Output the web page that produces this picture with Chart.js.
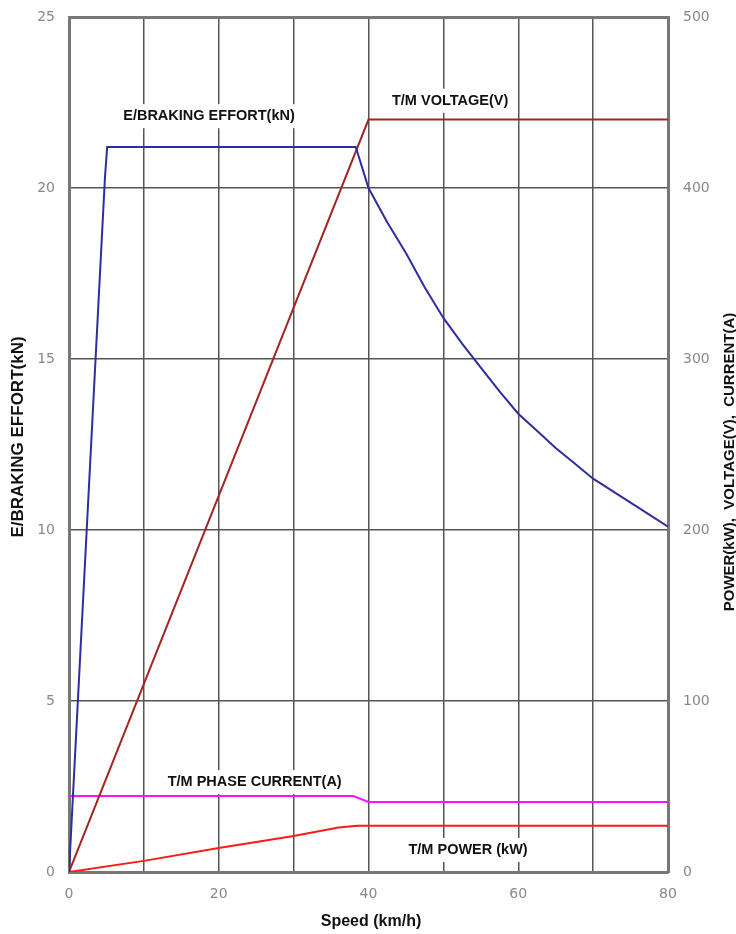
<!DOCTYPE html>
<html>
<head>
<meta charset="utf-8">
<script src="https://cdn.jsdelivr.net/npm/chart.js@4/dist/chart.umd.min.js"></script>
<style>
  html, body { margin: 0; padding: 0; background: #fff; }
  #wrap { width: 736px; height: 934px; }
</style>
</head>
<body>
<div id="wrap"><canvas id="chart" width="736" height="934"></canvas></div>
<script>
// Données
const speedEffort = [0, 4.8, 5.1, 38.3, 40, 42.5, 45, 47.5, 50, 52.5, 55, 57.5, 60, 62.5, 65, 67.5, 70, 72.5, 75, 77.5, 80];
const effortKN = [0, 20.3, 21.2, 21.2, 20.0, 19.0, 18.1, 17.1, 16.2, 15.45, 14.75, 14.05, 13.4, 12.9, 12.4, 11.95, 11.5, 11.15, 10.8, 10.45, 10.1];

const speedVoltage = [0, 40, 80];
const voltageV = [0, 440, 440];

const speedCurrent = [0, 38, 40, 80];
const currentA = [44.4, 44.4, 41, 41];

const speedPower = [0, 10, 20, 30, 36, 38.5, 80];
const powerKW = [0, 6.5, 14, 21, 26, 27, 27];

const xTicks = [0, 20, 40, 60, 80];

// Étiquettes dans le graphique : texte, position (x vitesse, y valeur), axe
const labelTexts = ["E/BRAKING EFFORT(kN)", "T/M VOLTAGE(V)", "T/M PHASE CURRENT(A)", "T/M POWER (kW)"];
const labelSpeeds = [18.7, 50.9, 24.8, 53.3];
const labelValues = [22.1, 451, 52.6, 12.9];
const labelAxes = ["y", "y2", "y2", "y2"];

function toPoints(xs, ys) {
  return xs.map((x, i) => ({ x: x, y: ys[i] }));
}

// Dessine les étiquettes et les titres d'axes
const textPlugin = {
  id: "textPlugin",
  beforeDatasetsDraw(chart) {
    const ctx = chart.ctx;
    ctx.save();
    ctx.font = "bold 14.5px 'Liberation Sans'";
    ctx.textAlign = "center";
    ctx.textBaseline = "middle";
    labelTexts.forEach((t, i) => {
      const px = chart.scales.x.getPixelForValue(labelSpeeds[i]);
      const py = chart.scales[labelAxes[i]].getPixelForValue(labelValues[i]);
      const w = ctx.measureText(t).width;
      ctx.fillStyle = "#fff";
      ctx.fillRect(px - w / 2 - 6, py - 12, w + 12, 24);
      ctx.fillStyle = "#111";
      ctx.fillText(t, px, py);
    });
    ctx.restore();
  },
  afterDraw(chart) {
    const ctx = chart.ctx;
    ctx.save();
    ctx.fillStyle = "#111";
    ctx.textAlign = "center";
    ctx.textBaseline = "middle";
    ctx.font = "bold 16px 'Liberation Sans'";
    ctx.fillText("Speed (km/h)", 371, 922);
    // titre axe gauche
    ctx.save();
    ctx.translate(18, 437);
    ctx.rotate(-Math.PI / 2);
    ctx.font = "bold 17px 'Liberation Sans'";
    ctx.fillText("E/BRAKING EFFORT(kN)", 0, 0);
    ctx.restore();
    // titre axe droit
    ctx.save();
    ctx.translate(730, 462);
    ctx.rotate(-Math.PI / 2);
    ctx.font = "bold 15px 'Liberation Sans'";
    ctx.fillText("POWER(kW),  VOLTAGE(V),  CURRENT(A)", 0, 0);
    ctx.restore();
    ctx.restore();
  }
};

const ctx = document.getElementById("chart").getContext("2d");
const gridColor = "#555";
const borderColor = "#777";
const tickFont = { family: "DejaVu Sans", size: 14 };

new Chart(ctx, {
  type: "line",
  data: {
    datasets: [
      {
        label: "E/BRAKING EFFORT(kN)",
        data: toPoints(speedEffort, effortKN),
        borderColor: "#2e2e9e",
        yAxisID: "y"
      },
      {
        label: "T/M VOLTAGE(V)",
        data: toPoints(speedVoltage, voltageV),
        borderColor: "#a32626",
        yAxisID: "y2"
      },
      {
        label: "T/M PHASE CURRENT(A)",
        data: toPoints(speedCurrent, currentA),
        borderColor: "#ff10ff",
        yAxisID: "y2"
      },
      {
        label: "T/M POWER (kW)",
        data: toPoints(speedPower, powerKW),
        borderColor: "#ff1a1a",
        yAxisID: "y2"
      }
    ]
  },
  options: {
    responsive: false,
    animation: false,
    layout: { padding: { top: 17, left: 0, right: 0, bottom: 0 } },
    elements: {
      point: { radius: 0 },
      line: { borderWidth: 2, tension: 0 }
    },
    plugins: {
      legend: { display: false },
      tooltip: { enabled: false }
    },
    scales: {
      x: {
        type: "linear",
        min: 0,
        max: 80,
        afterFit: s => { s.height = 62; s.paddingLeft = 0; s.paddingRight = 0; },
        afterBuildTicks: s => {
          s.ticks = [0, 10, 20, 30, 40, 50, 60, 70, 80].map(v => ({ value: v }));
        },
        ticks: {
          color: "#888",
          font: tickFont,
          padding: 14,
          maxRotation: 0,
          callback: v => (xTicks.includes(v) ? v : "")
        },
        grid: {
          color: gridColor,
          lineWidth: c => (c.tick && (c.tick.value === 80) ? 3 : 1.5),
          drawTicks: false
        },
        border: { color: borderColor, width: 3 }
      },
      y: {
        position: "left",
        min: 0,
        max: 25,
        afterFit: s => { s.width = 69; s.paddingTop = 0; s.paddingBottom = 0; },
        ticks: { stepSize: 5, color: "#888", font: tickFont, padding: 14 },
        grid: {
          color: c => (c.tick && c.tick.value === 25 ? borderColor : gridColor),
          lineWidth: c => (c.tick && c.tick.value === 25 ? 3 : 1.5),
          drawTicks: false
        },
        border: { color: borderColor, width: 3 }
      },
      y2: {
        position: "right",
        min: 0,
        max: 500,
        afterFit: s => { s.width = 68; s.paddingTop = 0; s.paddingBottom = 0; },
        ticks: { stepSize: 100, color: "#888", font: tickFont, padding: 15 },
        grid: { display: false, drawTicks: false },
        border: { color: borderColor, width: 3 }
      }
    }
  },
  plugins: [textPlugin]
});
</script>
</body>
</html>
